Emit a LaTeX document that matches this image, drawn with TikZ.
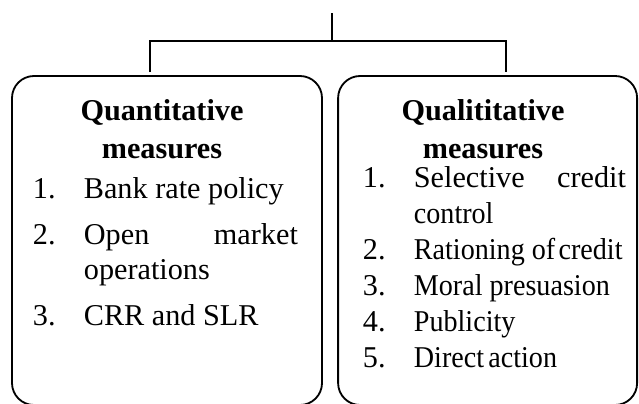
\documentclass[tikz,border=0pt]{standalone}
\usepackage{fontspec}
\usepackage{graphicx}
\setmainfont{Liberation Serif}
\usetikzlibrary{positioning, calc}

\newcommand{\narrow}[1]{\scalebox{0.93}[1]{#1}}

\tikzset{
  box/.style={draw, line width=1.3pt, rounded corners=0.55cm, minimum height=8.225cm, inner sep=0pt},
  head/.style={anchor=base, inner sep=0pt, font=\fontsize{21.5}{25}\selectfont\bfseries},
  num/.style={anchor=base west, inner sep=0pt, font=\fontsize{21.5}{25}\selectfont},
  item/.style={anchor=base west, inner sep=0pt, font=\fontsize{21.5}{25}\selectfont}
}

\begin{document}
\begin{tikzpicture}[line width=1.3pt]
    \useasboundingbox (0,0) rectangle (15.975,-10.075);

    % Cadres
    \node[box, minimum width=7.75cm] (qnt) at (4.175,-6.0125) {};
    \node[box, minimum width=7.475cm] (qlt) at (12.19,-6.0125) {};

    % Arbre
    \coordinate (top) at (8.3,-0.325);
    \coordinate (hub) at (8.3,-1.025);
    \coordinate (lq) at (3.75,-1.8);
    \coordinate (rq) at (12.65,-1.8);
    \draw (top) -- (hub);
    \draw (lq) |- (hub) -| (rq);

    % Quantitative
    \node[head] (qnth1) at (4.05,-3.0) {Quantitative};
    \node[head] (qnth2) at (4.05,-3.95) {measures};
    \node[num] (qn1) at (0.8,-4.95) {1.};
    \node[num] (qn2) at (0.8,-6.1) {2.};
    \node[num] (qn3) at (0.8,-8.125) {3.};
    \node[item] (qt1) at (2.075,-4.95) {Bank rate policy};
    \node[item] (qt2) at (2.075,-6.1) {\makebox[5.35cm][s]{Open\hfill market}};
    \node[item] (qt2b) at (2.075,-6.975) {operations};
    \node[item] (qt3) at (2.075,-8.125) {CRR and SLR};

    % Qualititative
    \node[head] (qlth1) at (12.075,-3.0) {Qualititative};
    \node[head] (qlth2) at (12.075,-3.95) {measures};
    \node[num] (ql1) at (9.05,-4.675) {1.};
    \node[num] (ql2) at (9.05,-6.475) {2.};
    \node[num] (ql3) at (9.05,-7.375) {3.};
    \node[num] (ql4) at (9.05,-8.275) {4.};
    \node[num] (ql5) at (9.05,-9.175) {5.};
    \node[item] (lt1) at (10.325,-4.675) {\makebox[5.3cm][s]{Selective\hfill credit}};
    \node[item] (lt1b) at (10.325,-5.575) {\narrow{control}};
    \node[item] (lt2) at (10.325,-6.475) {\narrow{Rationing of\hspace{0.12em}credit}};
    \node[item] (lt3) at (10.325,-7.375) {\narrow{Moral presuasion}};
    \node[item] (lt4) at (10.325,-8.275) {\narrow{Publicity}};
    \node[item] (lt5) at (10.325,-9.175) {\narrow{Direct\hspace{0.15em}action}};
\end{tikzpicture}
\end{document}
